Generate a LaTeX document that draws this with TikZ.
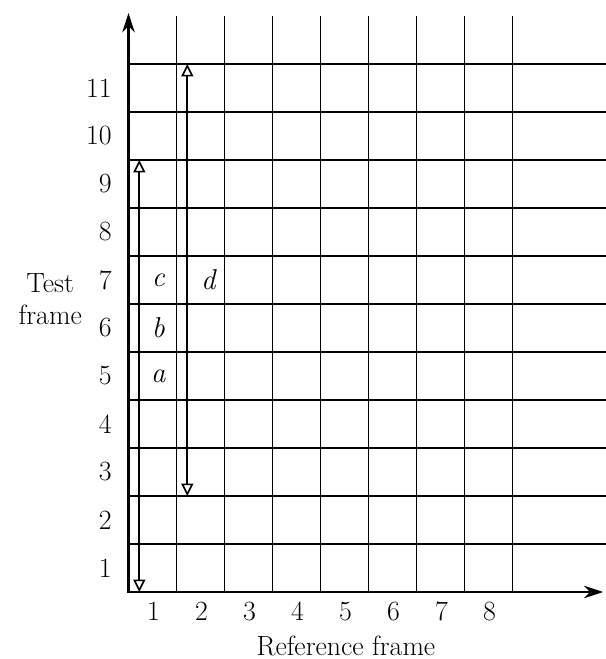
\documentclass[tikz,border=0pt]{standalone}
\usepackage{fontspec}
\usetikzlibrary{arrows.meta,positioning}
\definecolor{FrInk}{RGB}{0,0,0}
\tikzset{
  fr/grid/.style={draw=FrInk, line width=1.05pt},
  fr/axis/.style={draw=FrInk, line width=1.5pt, line join=miter,
    {Stealth[length=4mm,width=2.6mm]}-{Stealth[length=4mm,width=2.6mm]}},
  fr/span/.style={draw=FrInk, line width=1pt,
    {Triangle[open,length=2.6mm,width=2.5mm]}-{Triangle[open,length=2.6mm,width=2.5mm]}},
  fr/num/.style={font=\fontsize{16.5}{19}\selectfont, text=FrInk, inner sep=1pt},
  fr/title/.style={font=\fontsize{16.5}{19}\selectfont, text=FrInk, align=center, inner sep=0pt},
  fr/letter/.style={font=\fontsize{17}{19}\selectfont\itshape, text=FrInk}
}

\begin{document}
\begin{tikzpicture}[x=1cm,y=1cm]
  \useasboundingbox (-2.677,-1.396) rectangle (9.948,12.333);
  % grid
  \foreach \i in {1,...,8}{\draw[fr/grid] (\i,0) -- (\i,12);}
  \foreach \j in {1,...,11}{\draw[fr/grid] (0,\j) -- (9.95,\j);}
  % axes
  \coordinate (origin) at (0,0);
  \coordinate (ytip) at (0,12.06);
  \coordinate (xtip) at (9.89,0);
  \draw[fr/axis] (ytip) -- (origin) -- (xtip);
  % tick labels
  \foreach \n in {1,...,11}{\node[fr/num,anchor=east] (test\n) at (-0.31,\n-0.5) {\n};}
  \foreach \n in {1,...,8}{\node[fr/num] (ref\n) at (\n-0.48,-0.41) {\n};}
  \node[fr/title] (reftitle) at (4.53,-1.12) {Reference frame};
  \node[fr/title] (testtitle) at (-1.63,6.1) {Test\\frame};
  % spans
  \coordinate (spanAlo) at (0.225,0);
  \coordinate (spanAhi) at (0.225,9);
  \coordinate (spanDlo) at (1.225,2);
  \coordinate (spanDhi) at (1.225,11);
  \draw[fr/span] (spanAlo) -- (spanAhi);
  \draw[fr/span] (spanDlo) -- (spanDhi);
  \node[fr/letter] (la) at (0.62,4.5) {a};
  \node[fr/letter] (lb) at (0.62,5.5) {b};
  \node[fr/letter] (lc) at (0.62,6.5) {c};
  \node[fr/letter] (ld) at (1.66,6.5) {d};
\end{tikzpicture}
\end{document}
